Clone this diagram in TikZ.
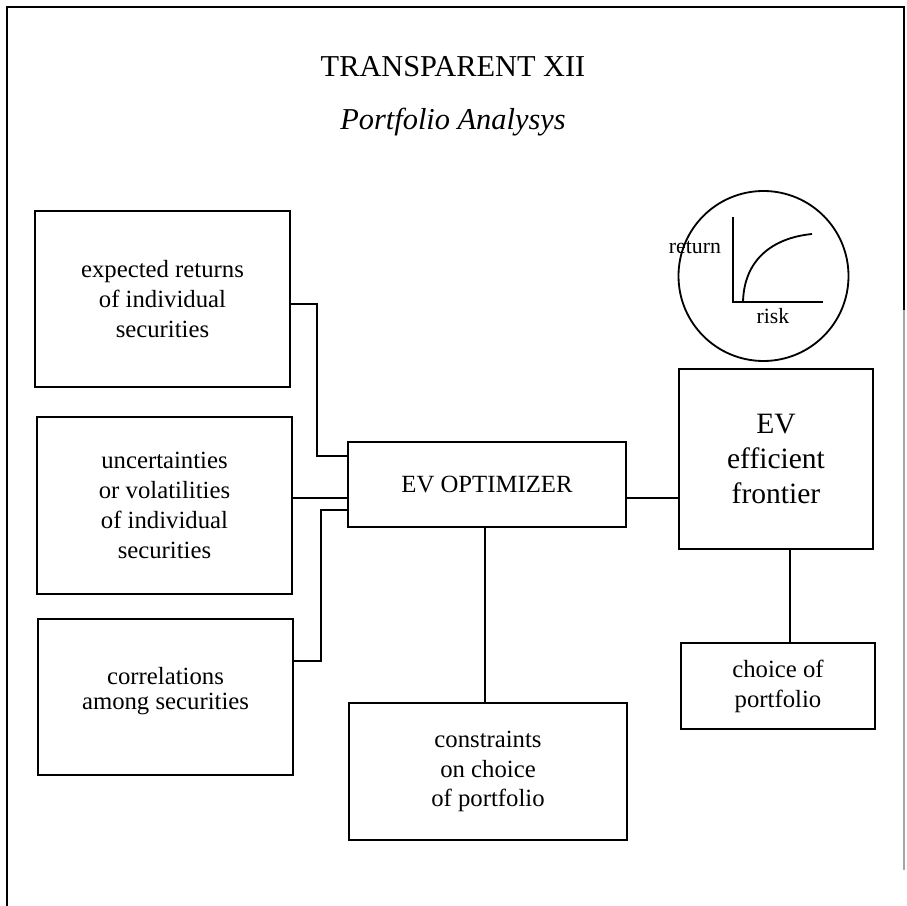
\documentclass[tikz,border=0pt]{standalone}
\usepackage{fontspec}
\setmainfont{Liberation Serif}
\usepackage{tikz}
\usetikzlibrary{calc}

\tikzset{
  box/.style={draw, line width=1.3pt, align=center, inner sep=0pt,
    font=\fontsize{17.6}{21.3}\selectfont},
  bigbox/.style={box, font=\fontsize{21}{24.8}\selectfont},
  link/.style={line width=1.1pt},
  axis/.style={line width=1.3pt}
}

\begin{document}
\begin{tikzpicture}[scale=1]
  \useasboundingbox (0,0) rectangle (22.675,22.65);

  % Marco
  \draw[line width=1.2pt] (0.175,0) -- (0.175,22.475) -- (22.6,22.475) -- (22.6,14.9);
  \draw[line width=1pt, black!35] (22.6,14.9) -- (22.6,0.9);

  % Titulo
  \node[font=\fontsize{21.6}{25}\selectfont] (title) at (11.325,20.99) {TRANSPARENT XII};
  \node[font=\fontsize{21.6}{25}\selectfont\itshape] (subtitle) at (11.325,19.6) {Portfolio Analysys};

  % Entradas
  \node[box, minimum width=6.375cm, minimum height=4.4cm] (returns) at (4.0625,15.175)
    {expected returns\\ of individual\\ securities};
  \node[box, minimum width=6.375cm, minimum height=4.425cm] (vols) at (4.1125,10.0125)
    {uncertainties\\ or volatilities\\ of individual\\ securities};
  \node[box, minimum width=6.375cm, minimum height=3.9cm] (corr) at (4.1375,5.225)
    {correlations\\[-0.12cm] among securities\\[-0.3cm]};

  % Optimizador y restricciones
  \node[box, minimum width=6.95cm, minimum height=2.125cm] (opt) at (12.175,10.5375)
    {EV OPTIMIZER};
  \node[box, minimum width=6.95cm, minimum height=3.425cm] (cons) at (12.2,3.3625)
    {constraints\\ on choice\\ of portfolio};

  % Frontera y eleccion
  \node[bigbox, minimum width=4.85cm, minimum height=4.5cm] (front) at (19.4,11.175)
    {EV\\ efficient\\ frontier};
  \node[box, minimum width=4.85cm, minimum height=2.15cm] (choice) at (19.45,5.5)
    {choice of\\ portfolio};

  % Grafico riesgo-rendimiento
  \node[draw, circle, axis, minimum size=4.25cm, inner sep=0pt] (graph) at (19.0875,15.75) {};
  \coordinate (origin) at (18.325,15.1);
  \draw[axis] (18.325,17.225) -- (origin) -- (20.575,15.1);
  \draw[axis] (18.575,15.1) .. controls (18.6,16.15) and (19.3,16.7) .. (20.3,16.8);
  \node[font=\fontsize{15.5}{18}\selectfont] (ret) at (17.375,16.475) {return};
  \node[font=\fontsize{15.5}{18}\selectfont] (risk) at (19.325,14.75) {risk};

  % Conexiones
  \coordinate (j1) at (7.925,11.25);
  \coordinate (j2) at (8.3,10.2);
  \coordinate (j3) at (8.025,9.9);
  \draw[link] ([yshift=-0.125cm]returns.east) -| (j1) -- (j1 -| opt.west);
  \draw[link] (j2 -| vols.east) -- (j2 -| opt.west);
  \draw[link] ([yshift=0.9cm]corr.east) -| (j3) -- (j3 -| opt.west);
  \draw[link] ([xshift=-0.05cm]opt.south) -- ([xshift=-0.05cm]opt.south |- cons.north);
  \draw[link] (j2 -| opt.east) -- (j2 -| front.west);
  \draw[link] ([xshift=0.35cm]front.south) -- ([xshift=0.35cm]front.south |- choice.north);
\end{tikzpicture}
\end{document}
